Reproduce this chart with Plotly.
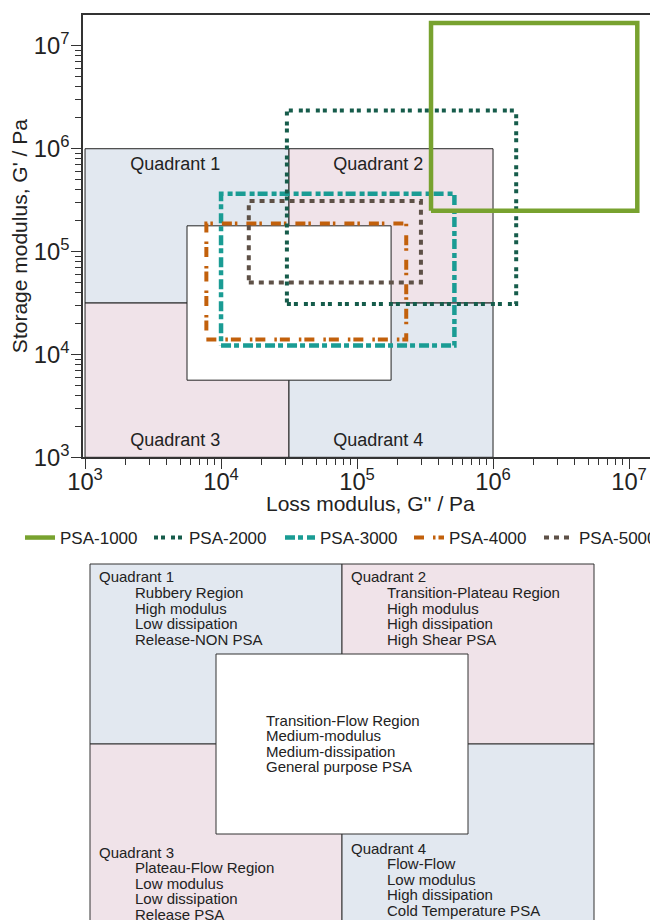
import plotly.graph_objects as go

FONT = "Liberation Sans, Arial, sans-serif"
BLUE = "#e2e8f0"
PINK = "#f0e3e9"
INK = "#222222"

# The page body adds an 8px margin, so the figure is 650x912 and every
# layout position below is measured from that offset origin.
W, H = 650, 912

# ---------------- top chart data (Pa) ----------------
quad_names = ["Quadrant 1", "Quadrant 2", "Quadrant 3", "Quadrant 4"]
quad_gpp = [[1e3, 3.16e4], [3.16e4, 1e6], [1e3, 3.16e4], [3.16e4, 1e6]]   # G'' range
quad_gp = [[3.16e4, 1e6], [3.16e4, 1e6], [1e3, 3.16e4], [1e3, 3.16e4]]     # G' range
quad_fill = [BLUE, PINK, PINK, BLUE]
center_gpp = [5.62e3, 1.78e5]
center_gp = [5.62e3, 1.78e5]
quad_label_gpp = [4.6e3, 1.43e5, 4.6e3, 1.43e5]
quad_label_gp = [6.9e5, 6.9e5, 1.41e3, 1.41e3]

psa_names = ["PSA-1000", "PSA-2000", "PSA-3000", "PSA-4000", "PSA-5000"]
psa_gpp_min = [3.5e5, 3.05e4, 1.0e4, 7.8e3, 1.6e4]
psa_gpp_max = [1.15e7, 1.48e6, 5.2e5, 2.3e5, 2.95e5]
psa_gp_min = [2.5e5, 3.1e4, 1.22e4, 1.4e4, 5.0e4]
psa_gp_max = [1.67e7, 2.35e6, 3.65e5, 1.87e5, 3.1e5]
psa_color = ["#78a22f", "#165c4b", "#1a9c94", "#c2600b", "#5e5147"]
psa_dash = ["solid", "4px,3px,4px,6px", "10px,3px,5px,4px", "10px,9px,2.5px,3px", "5px,5px"]
psa_width = [4.5, 4, 4.5, 4, 4]
draw_order = [2, 3, 4, 1, 0]
legend_ids = ["legend", "legend2", "legend3", "legend4", "legend5"]
legend_x_px = [12, 141, 272, 401, 531]

# ---------------- bottom diagram data ----------------
diag_titles = ["Quadrant 1", "Quadrant 2", "Quadrant 3", "Quadrant 4"]
diag_lines = [
    ["Rubbery Region", "High modulus", "Low dissipation", "Release-NON PSA"],
    ["Transition-Plateau Region", "High modulus", "High dissipation", "High Shear PSA"],
    ["Plateau-Flow Region", "Low modulus", "Low dissipation", "Release PSA"],
    ["Flow-Flow", "Low modulus", "High dissipation", "Cold Temperature PSA"],
]
center_lines = ["Transition-Flow Region", "Medium-modulus", "Medium-dissipation", "General purpose PSA"]
diag_x = [[0, 1], [1, 2], [0, 1], [1, 2]]
diag_y = [[1, 2], [1, 2], [0, 1], [0, 1]]
diag_title_y = [1.928, 1.928, 0.40, 0.422]
LINE_STEP = 0.0867

fig = go.Figure()


def rect(x0, x1, y0, y1):
    return [x0, x1, x1, x0, x0], [y0, y0, y1, y1, y0]


# quadrant areas
for i in range(4):
    xs, ys = rect(quad_gpp[i][0], quad_gpp[i][1], quad_gp[i][0], quad_gp[i][1])
    fig.add_trace(go.Scatter(x=xs, y=ys, mode="lines", fill="toself", fillcolor=quad_fill[i],
                             line=dict(color=INK, width=1), showlegend=False, hoverinfo="skip"))
xs, ys = rect(center_gpp[0], center_gpp[1], center_gp[0], center_gp[1])
fig.add_trace(go.Scatter(x=xs, y=ys, mode="lines", fill="toself", fillcolor="white",
                         line=dict(color=INK, width=1), showlegend=False, hoverinfo="skip"))

fig.add_trace(go.Scatter(x=quad_label_gpp, y=quad_label_gp, mode="text", text=quad_names,
                         textfont=dict(family=FONT, size=18, color=INK), showlegend=False,
                         hoverinfo="skip"))

# PSA windows
for i in draw_order:
    xs, ys = rect(psa_gpp_min[i], psa_gpp_max[i], psa_gp_min[i], psa_gp_max[i])
    fig.add_trace(go.Scatter(x=xs, y=ys, mode="lines", name=psa_names[i], legend=legend_ids[i],
                             line=dict(color=psa_color[i], width=psa_width[i], dash=psa_dash[i])))

# bottom diagram
for i in range(4):
    xs, ys = rect(diag_x[i][0], diag_x[i][1], diag_y[i][0], diag_y[i][1])
    fig.add_trace(go.Scatter(x=xs, y=ys, xaxis="x2", yaxis="y2", mode="lines", fill="toself",
                             fillcolor=quad_fill[i], line=dict(color="#333333", width=1),
                             showlegend=False, hoverinfo="skip"))
xs, ys = rect(0.5, 1.5, 0.5, 1.5)
fig.add_trace(go.Scatter(x=xs, y=ys, xaxis="x2", yaxis="y2", mode="lines", fill="toself",
                         fillcolor="white", line=dict(color="#333333", width=1),
                         showlegend=False, hoverinfo="skip"))

annotations = []
for i in range(4):
    annotations.append(dict(x=diag_x[i][0] + 0.028, y=diag_title_y[i], xref="x2", yref="y2",
                            text=diag_titles[i], showarrow=False, xanchor="left", yanchor="middle",
                            font=dict(family=FONT, size=15, color=INK)))
    for j, t in enumerate(diag_lines[i]):
        annotations.append(dict(x=diag_x[i][0] + 0.171, y=diag_title_y[i] - LINE_STEP * (j + 1),
                                xref="x2", yref="y2", text=t, showarrow=False, xanchor="left",
                                yanchor="middle", font=dict(family=FONT, size=15, color=INK)))
for j, t in enumerate(center_lines):
    annotations.append(dict(x=0.69, y=1.133 - LINE_STEP * j, xref="x2", yref="y2", text=t,
                            showarrow=False, xanchor="left", yanchor="middle",
                            font=dict(family=FONT, size=15, color=INK)))

# x-axis title (placed as an annotation so it can sit closer to the tick labels)
annotations.append(dict(x=(75 / W + 1) / 2, y=1 - 495 / H, xref="paper", yref="paper",
                        text="Loss modulus, G'' / Pa", showarrow=False, xanchor="center",
                        yanchor="middle", font=dict(family=FONT, size=21, color=INK)))

axis_common = dict(type="log", dtick=1, exponentformat="power", showgrid=False, zeroline=False,
                   showline=True, linecolor="#333333", linewidth=1.5, ticks="outside", ticklen=10,
                   tickcolor="#333333", tickwidth=1.2, automargin=False,
                   tickfont=dict(family=FONT, size=19, color=INK),
                   minor=dict(ticks="outside", ticklen=6, dtick="D1", tickcolor="#333333",
                              tickwidth=1, showgrid=False))

legends = {}
for i, lid in enumerate(legend_ids):
    legends[lid] = dict(orientation="h", x=legend_x_px[i] / W, xanchor="left",
                        y=1 - 530 / H, yanchor="middle",
                        font=dict(family=FONT, size=17, color=INK), bgcolor="rgba(0,0,0,0)")

fig.update_layout(
    width=W, height=H,
    margin=dict(l=0, r=0, t=0, b=0, autoexpand=False),
    paper_bgcolor="white", plot_bgcolor="white",
    font=dict(family=FONT, color=INK),
    xaxis=dict(domain=[75 / W, 1], range=[2.985, 7.213], mirror=True, anchor="y",
               ticklabelstandoff=-7, **axis_common),
    yaxis=dict(domain=[1 - 449.3 / H, 1 - 7 / H], range=[3.0, 7.30], anchor="x",
               ticklabelstandoff=-2,
               title=dict(text="Storage modulus, G' / Pa", font=dict(family=FONT, size=21, color=INK),
                          standoff=0),
               **axis_common),
    xaxis2=dict(domain=[0, 1], range=[-82 / 252, (W - 82) / 252], visible=False, anchor="y2"),
    yaxis2=dict(domain=[0, 365 / H], range=[0.0222, 2.05], visible=False, anchor="x2"),
    annotations=annotations,
    showlegend=True,
    **legends,
)

fig.write_html("out.html")
